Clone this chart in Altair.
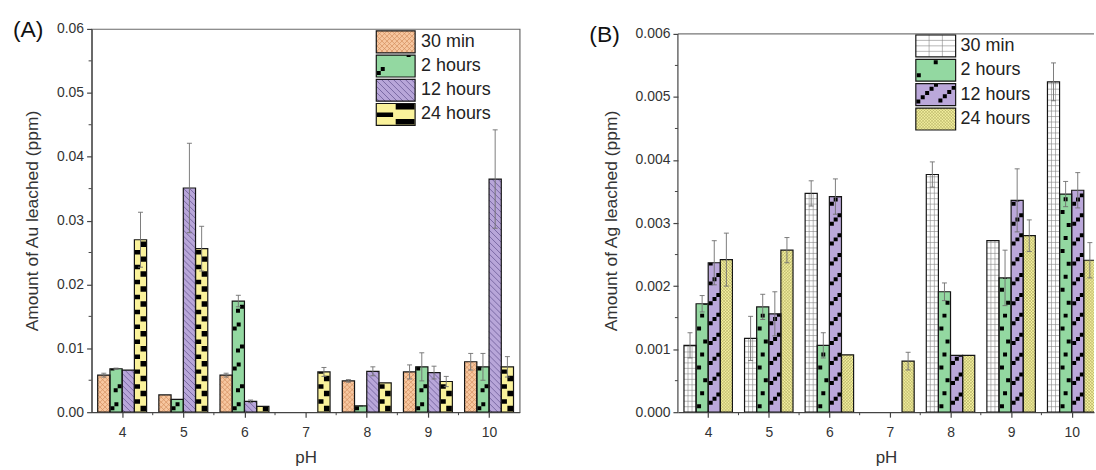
import altair as alt
import numpy as np
import pandas as pd

alt.data_transformers.disable_max_rows()

PH = [4, 5, 6, 7, 8, 9, 10]
SERIES = ["30 min", "2 hours", "12 hours", "24 hours"]

# (A) gold leached, ppm, with standard deviations
AU_30MIN = [0.0058, 0.0027, 0.0058, 0.0, 0.0049, 0.0063, 0.0079]
AU_2H = [0.0068, 0.0020, 0.0174, 0.0, 0.0010, 0.0071, 0.0071]
AU_12H = [0.0066, 0.0351, 0.0017, 0.0, 0.0064, 0.0062, 0.0365]
AU_24H = [0.0270, 0.0256, 0.0009, 0.0063, 0.0046, 0.0048, 0.0071]
AU_30MIN_ERR = [0.0003, 0.0, 0.0003, 0.0, 0.0002, 0.0011, 0.0013]
AU_2H_ERR = [0.0001, 0.0, 0.0009, 0.0, 0.0, 0.0022, 0.0021]
AU_12H_ERR = [0.0, 0.0070, 0.0002, 0.0, 0.0007, 0.0010, 0.0077]
AU_24H_ERR = [0.0043, 0.0035, 0.0, 0.0007, 0.0, 0.0008, 0.0016]

# (B) silver leached, ppm, with standard deviations
AG_30MIN = [0.00106, 0.00117, 0.00347, 0.0, 0.00377, 0.00272, 0.00524]
AG_2H = [0.00172, 0.00167, 0.00106, 0.0, 0.00191, 0.00213, 0.00346]
AG_12H = [0.00237, 0.00156, 0.00342, 0.0, 0.00090, 0.00336, 0.00352]
AG_24H = [0.00242, 0.00257, 0.00091, 0.00081, 0.00090, 0.00280, 0.00241]
AG_30MIN_ERR = [0.0002, 0.00035, 0.0002, 0.0, 0.0002, 0.0, 0.0003]
AG_2H_ERR = [0.00013, 0.0002, 0.0002, 0.0, 0.00014, 0.00044, 0.0002]
AG_12H_ERR = [0.00035, 0.00035, 0.00028, 0.0, 0.0, 0.0005, 0.00028]
AG_24H_ERR = [0.00042, 0.0002, 0.0, 0.00014, 0.0, 0.00025, 0.00028]

FONT = "Liberation Sans"
BAR_W = 0.2  # four bars per pH group


# ---------- fill textures, built in pixel units inside a w x h box ----------
def diag(w, h, slope, step, color, width):
    out = []
    cs = np.arange(-w, h, step) if slope > 0 else np.arange(step / 2, h + w, step)
    for c in cs:
        if slope > 0:
            xa, xb = max(0.0, -c), min(w, h - c)
        else:
            xa, xb = max(0.0, c - h), min(w, c)
        if xb - xa > 0.4:
            out.append((xa, slope * xa + c, xb, slope * xb + c, color, width))
    return out


def texture(kind, w, h):
    segs, blocks = [], []

    def block(x0, y0, s1, s2):
        if 0 <= y0 < h:
            blocks.append((max(0, x0), y0, min(w, x0 + s1), min(h, y0 + s2)))

    if kind == "A30":
        segs += diag(w, h, 1, 5.0, "#d38d5c", 0.7)
        segs += diag(w, h, -1, 5.0, "#d38d5c", 0.7)
    elif kind == "A12":
        segs += diag(w, h, -1, 6.0, "#6a5a96", 0.8)
    elif kind == "A2":
        for p in np.arange(0, h, 40):
            block(0.5, p + 2, 4, 4)
            block(4.5, p + 6, 4, 4)
            block(w - 8.5, p + 20, 4, 4)
            block(w - 4.5, p + 24, 4, 4)
    elif kind == "A24":
        for p in np.arange(0, h, 15):
            block(w * 0.5, p + 1, w * 0.5 - 0.5, 5.5)
            block(0.5, p + 8.5, w * 0.42, 4.5)
    elif kind == "B30":
        for y in np.arange(5.5, h, 5.5):
            segs.append((0, y, w, y, "#858585", 0.6))
        for x in np.arange(w / 3, w - 1, w / 3):
            segs.append((x, 0, x, h, "#858585", 0.6))
    elif kind == "B2":
        cols = [1.0, w / 2 - 2.0, w - 5.0]
        for k, p in enumerate(np.arange(4, h, 13)):
            block(cols[k % 3], p, 4, 4)
    elif kind == "B12":
        n = max(3, int(w // 4.2))
        for p in np.arange(-4.2 * n, h, 20):
            for j in range(n):
                x = 0.5 + j * (w - 4.5) / (n - 1)
                block(x, p + j * 4.2, 4, 4)
    elif kind == "B24":
        segs += diag(w, h, 1, 3.0, "#a29e52", 0.5)
        segs += diag(w, h, -1, 3.0, "#a29e52", 0.5)
    return segs, blocks


PANELS = [
    dict(tag="(A)", title="Amount of Au leached (ppm)", ytop=0.06, ydom=0.06, ystep=0.01,
         fmt=".2f", width=430, height=385, kx=430 / 7.0, xmax=10.5,
         values=[AU_30MIN, AU_2H, AU_12H, AU_24H],
         errors=[AU_30MIN_ERR, AU_2H_ERR, AU_12H_ERR, AU_24H_ERR],
         fills=["#f7c7a0", "#93d8a1", "#b8a6d9", "#faf29b"],
         kinds=["A30", "A2", "A12", "A24"],
         legend=dict(left=286, top=2, pitch=24.3, sw=39, sh=22, text=331),
         tag_dx=-79, frame=True),
    dict(tag="(B)", title="Amount of Ag leached (ppm)", ytop=0.006, ydom=0.006 * 385 / 380,
         ystep=0.001, fmt=".3f", width=418, height=385, kx=426 / 7.0,
         xmax=3.5 + 418 / (426 / 7.0),
         values=[AG_30MIN, AG_2H, AG_12H, AG_24H],
         errors=[AG_30MIN_ERR, AG_2H_ERR, AG_12H_ERR, AG_24H_ERR],
         fills=["#ffffff", "#93d8a1", "#bba8da", "#f3ef9f"],
         kinds=["B30", "B2", "B12", "B24"],
         legend=dict(left=239, top=1, pitch=24.5, sw=40, sh=22, text=284),
         tag_dx=-89, frame=False),
]


def build_panel(P):
    kx = P["kx"]
    ky = P["height"] / P["ydom"]
    rects, segs, blocks, errs, caps, labels = [], [], [], [], [], []

    def add_rect(x0, y0, x1, y1, fill, kind):
        rects.append(dict(x0=x0, x1=x1, y0=y0, y1=y1, fill=fill))
        w, h = (x1 - x0) * kx, (y1 - y0) * ky
        s, b = texture(kind, w, h)
        for xa, ya, xb, yb, col, lw in s:
            segs.append(dict(xa=x0 + xa / kx, ya=y0 + ya / ky, xb=x0 + xb / kx,
                             yb=y0 + yb / ky, color=col, lw=lw))
        for bx0, by0, bx1, by1 in b:
            blocks.append(dict(x0=x0 + bx0 / kx, y0=y0 + by0 / ky,
                               x1=x0 + bx1 / kx, y1=y0 + by1 / ky))

    # bars
    for i in range(4):
        for ph, v, e in zip(PH, P["values"][i], P["errors"][i]):
            x0 = ph - 2 * BAR_W + i * BAR_W
            if v > 0:
                add_rect(x0, 0.0, x0 + BAR_W, v, P["fills"][i], P["kinds"][i])
            if e > 0:
                c = x0 + BAR_W / 2
                lo, hi = max(0.0, v - e), v + e
                errs.append(dict(x=c, y=lo, y2=hi))
                for yy in (lo, hi):
                    caps.append(dict(x=c - 2.5 / kx, x2=c + 2.5 / kx, y=yy))

    # legend swatches, placed inside the plot area below the top of the y axis
    L = P["legend"]
    for i, name in enumerate(SERIES):
        top = P["ytop"] - (L["top"] + i * L["pitch"]) / ky
        x0 = 3.5 + L["left"] / kx
        add_rect(x0, top - L["sh"] / ky, x0 + L["sw"] / kx, top, P["fills"][i], P["kinds"][i])
        labels.append(dict(x=3.5 + L["text"] / kx, y=top - (L["sh"] / 2) / ky, t=name))

    rects, segs, blocks = pd.DataFrame(rects), pd.DataFrame(segs), pd.DataFrame(blocks)
    errs, caps, labels = pd.DataFrame(errs), pd.DataFrame(caps), pd.DataFrame(labels)

    xs = alt.Scale(domain=[3.5, P["xmax"]], nice=False, zero=False)
    ys = alt.Scale(domain=[0, P["ydom"]], nice=False)
    yticks = [round(k * P["ystep"], 4) for k in range(7)]
    xaxis = alt.Axis(values=PH, title="pH", grid=False, labelFlush=False, format="d")
    yaxis = alt.Axis(values=yticks, title=P["title"], grid=False, format=P["fmt"],
                     domain=P["frame"])

    def X(f):
        return alt.X(f, type="quantitative", scale=xs, axis=xaxis)

    def Y(f):
        return alt.Y(f, type="quantitative", scale=ys, axis=yaxis)

    fill_layer = alt.Chart(rects).mark_rect(clip=True).encode(
        x=X("x0"), x2="x1", y=Y("y0"), y2="y1", fill=alt.Fill("fill:N", scale=None))
    seg_layer = alt.Chart(segs).mark_rule(clip=True).encode(
        x=X("xa"), x2="xb", y=Y("ya"), y2="yb",
        color=alt.Color("color:N", scale=None), strokeWidth=alt.StrokeWidth("lw:Q", scale=None))
    block_layer = alt.Chart(blocks).mark_rect(clip=True, color="#000000").encode(
        x=X("x0"), x2="x1", y=Y("y0"), y2="y1")
    outline_layer = alt.Chart(rects).mark_rect(
        clip=True, fillOpacity=0, stroke="#151515", strokeWidth=1.2).encode(
        x=X("x0"), x2="x1", y=Y("y0"), y2="y1")
    err_layer = alt.Chart(errs).mark_rule(color="#6f6f6f", strokeWidth=0.9, clip=True).encode(
        x=X("x"), y=Y("y"), y2="y2")
    cap_layer = alt.Chart(caps).mark_rule(color="#6f6f6f", strokeWidth=0.9, clip=True).encode(
        x=X("x"), x2="x2", y=Y("y"))
    text_layer = alt.Chart(labels).mark_text(
        align="left", baseline="middle", fontSize=18, font=FONT, color="#222222").encode(
        x=X("x"), y=Y("y"), text="t:N")

    yminor = pd.DataFrame({"m": [P["ystep"] / 2 + k * P["ystep"] for k in range(6)]})
    xminor = pd.DataFrame({"m": [4.5, 5.5, 6.5, 7.5, 8.5, 9.5]})
    ymin_layer = alt.Chart(yminor).mark_rule(color="#444444", strokeWidth=1).encode(
        y=Y("m"), x=alt.value(-3), x2=alt.value(0))
    xmin_layer = alt.Chart(xminor).mark_rule(color="#444444", strokeWidth=1).encode(
        x=X("m"), y=alt.value(P["height"]), y2=alt.value(P["height"] + 3))
    tag_y = P["height"] - P["ytop"] * ky + 1
    tag_layer = alt.Chart(pd.DataFrame({"t": [P["tag"]]})).mark_text(
        align="left", baseline="middle", fontSize=23, font=FONT, color="#111111").encode(
        text="t:N", x=alt.value(P["tag_dx"]), y=alt.value(tag_y))

    layers = [fill_layer, seg_layer, block_layer, outline_layer, err_layer, cap_layer,
              text_layer, ymin_layer, xmin_layer, tag_layer]
    if not P["frame"]:
        # left axis line and top border end at the last tick value
        edges = pd.DataFrame({"lo": [0.0], "hi": [P["ytop"]]})
        left_line = alt.Chart(edges).mark_rule(color="#444444", strokeWidth=1.2).encode(
            x=alt.value(0), y=Y("lo"), y2="hi")
        top_line = alt.Chart(edges).mark_rule(color="#777777", strokeWidth=1.2).encode(
            x=alt.value(0), x2=alt.value(P["width"]), y=Y("hi"))
        layers += [left_line, top_line]

    chart = alt.layer(*layers).properties(width=P["width"], height=P["height"])
    if not P["frame"]:
        chart = chart.properties(view=alt.ViewBackground(stroke="transparent"))
    return chart


chart = alt.hconcat(build_panel(PANELS[0]), build_panel(PANELS[1]), spacing=68).properties(
    padding={"left": 12, "top": 17, "right": 0, "bottom": 0},
    background="white",
).configure_view(
    stroke="#6a6a6a", strokeWidth=1.2
).configure_axis(
    labelFont=FONT, titleFont=FONT, labelFontSize=14, titleFontSize=17.5,
    labelColor="#333333", titleColor="#333333", titleFontWeight="normal",
    domainColor="#444444", tickColor="#444444", domainWidth=1.2, tickWidth=1.2,
    tickSize=5, labelPadding=3,
).configure_axisX(
    titleFontSize=17, titlePadding=11, labelPadding=8,
).configure_axisY(
    titlePadding=15,
)

chart.save("out.html", embed_options={"renderer": "svg", "actions": False})
